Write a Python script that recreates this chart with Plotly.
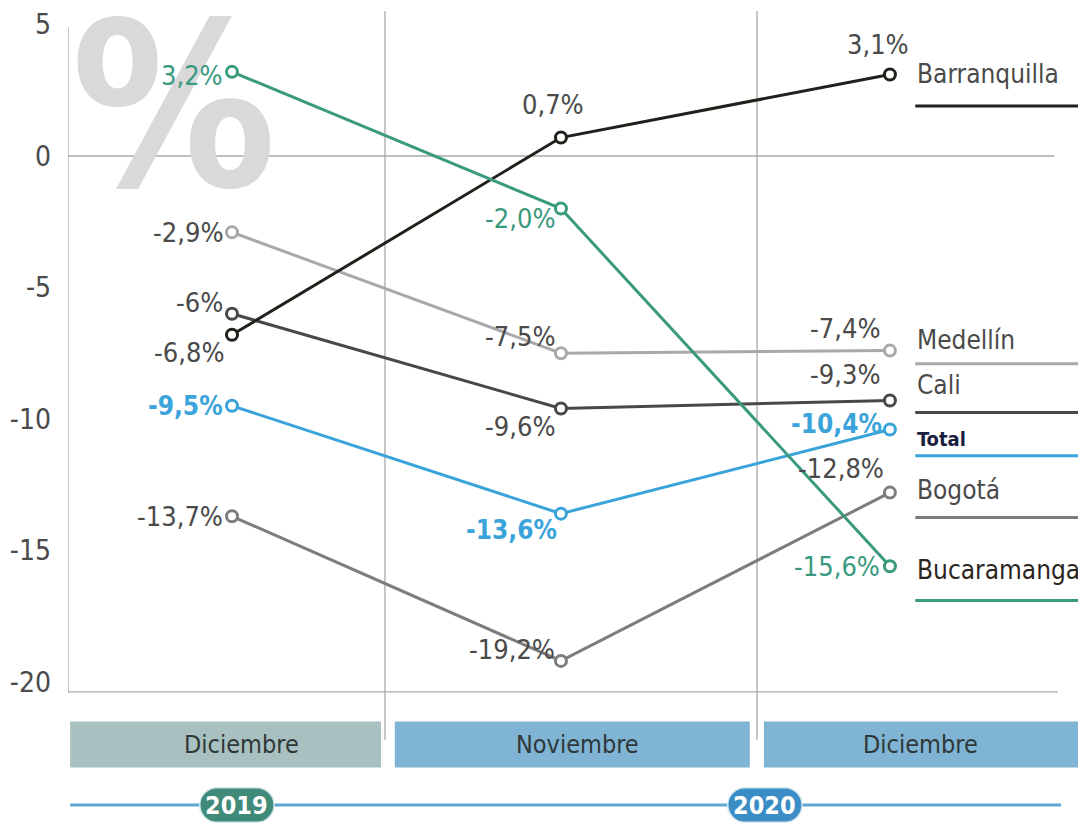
import plotly.graph_objects as go

# ---------------- data ----------------
periods = ["Dic 2019", "Nov 2020", "Dic 2020"]
band_labels = ["Diciembre", "Noviembre", "Diciembre"]
years = ["2019", "2020"]
cities = ["Barranquilla", "Bucaramanga", "Medellín", "Cali", "Total", "Bogotá"]
barranquilla = [-6.8, 0.7, 3.1]
bucaramanga = [3.2, -2.0, -15.6]
medellin = [-2.9, -7.5, -7.4]
cali = [-6.0, -9.6, -9.3]
total = [-9.5, -13.6, -10.4]
bogota = [-13.7, -19.2, -12.8]
value_texts = {
    "Barranquilla": ["-6,8%", "0,7%", "3,1%"],
    "Bucaramanga": ["3,2%", "-2,0%", "-15,6%"],
    "Medellín": ["-2,9%", "-7,5%", "-7,4%"],
    "Cali": ["-6%", "-9,6%", "-9,3%"],
    "Total": ["-9,5%", "-13,6%", "-10,4%"],
    "Bogotá": ["-13,7%", "-19,2%", "-12,8%"],
}
yticks = [5, 0, -5, -10, -15, -20]

series = {
    "Barranquilla": barranquilla,
    "Bucaramanga": bucaramanga,
    "Medellín": medellin,
    "Cali": cali,
    "Total": total,
    "Bogotá": bogota,
}

# ---------------- style ----------------
FONT = "DejaVu Sans Condensed, Roboto, sans-serif"
colors = {
    "Barranquilla": "#231f1a",
    "Bucaramanga": "#3a9a7e",
    "Medellín": "#a9a9a9",
    "Cali": "#484848",
    "Total": "#3aa4da",
    "Bogotá": "#7d7d7d",
}
label_colors = {
    "Barranquilla": "#4a4a4a",
    "Bucaramanga": "#3a9a7e",
    "Medellín": "#4a4a4a",
    "Cali": "#4a4a4a",
    "Total": "#3aa4da",
    "Bogotá": "#4a4a4a",
}
# (xanchor, yanchor, xshift, yshift) per point
label_pos = {
    "Barranquilla": [("right", "middle", -6, -18), ("center", "bottom", -8, 16), ("center", "bottom", -12, 12)],
    "Bucaramanga": [("right", "middle", -7, -4), ("right", "middle", -4, -10), ("right", "middle", -8, 0)],
    "Medellín": [("right", "middle", -7, 0), ("right", "middle", -4, 17), ("right", "middle", -8, 22)],
    "Cali": [("right", "middle", -7, 11), ("right", "middle", -4, -18), ("right", "middle", -8, 26)],
    "Total": [("right", "middle", -7, 0), ("right", "middle", -2, -16), ("right", "middle", -6, 5)],
    "Bogotá": [("right", "middle", -7, 0), ("right", "middle", -4, 11), ("right", "middle", -4, 24)],
}
# legend-name rows at right: (y value of text, y value of underline)
name_rows = {
    "Barranquilla": (3.1, 1.9),
    "Medellín": (-7.0, -7.9),
    "Cali": (-8.7, -9.75),
    "Total": (-10.75, -11.4),
    "Bogotá": (-12.7, -13.75),
    "Bucaramanga": (-15.75, -16.9),
}

x_idx = [0, 1, 2]

fig = go.Figure()

# big "%" watermark
fig.add_annotation(x=-0.175, y=1.85, xref="x", yref="y", text="<b>%</b>", showarrow=False,
                   font=dict(family=FONT, size=228, color="#d9d9d9"),
                   xanchor="center", yanchor="middle")

# lines
order = ["Bogotá", "Total", "Cali", "Medellín", "Barranquilla", "Bucaramanga"]
for name in order:
    fig.add_trace(go.Scatter(
        x=x_idx, y=series[name], mode="lines+markers", name=name,
        line=dict(color=colors[name], width=3),
        marker=dict(symbol="circle", size=11, color="white",
                    line=dict(color=colors[name], width=3)),
        showlegend=False, hoverinfo="skip"))

# value labels
for name in cities:
    for i, v in enumerate(series[name]):
        xa, ya, xs, ys = label_pos[name][i]
        bold = name == "Total"
        txt = value_texts[name][i]
        fig.add_annotation(x=i, y=v, text=("<b>%s</b>" % txt) if bold else txt,
                           showarrow=False, xanchor=xa, yanchor=ya, xshift=xs, yshift=ys,
                           font=dict(family=FONT, size=26 if bold else 27, color=label_colors[name]))

# legend names at right
for name in cities:
    ty, uy = name_rows[name]
    if name == "Total":
        txt, fsize, fcol = "<b>Total</b>", 20, "#1a2040"
    elif name == "Bucaramanga":
        txt, fsize, fcol = name, 26, "#2b2520"
    else:
        txt, fsize, fcol = name, 26, "#4a4a4a"
    fig.add_annotation(x=2.075, y=ty, text=txt, showarrow=False, xanchor="left", yanchor="middle",
                       font=dict(family=FONT, size=fsize, color=fcol))
    fig.add_shape(type="line", x0=2.077, x1=2.575, y0=uy, y1=uy,
                  line=dict(color=colors[name], width=3))

shapes_line = "#a8a8a8"
# zero line
fig.add_shape(type="line", x0=-0.5, x1=2.5, y0=0, y1=0, line=dict(color=shapes_line, width=1.3), layer="below")
# left axis
fig.add_shape(type="line", x0=-0.4985, x1=-0.4985, y0=4.9, y1=-20.38, line=dict(color=shapes_line, width=1.3), layer="below")
# bottom line
fig.add_shape(type="line", x0=-0.4985, x1=2.51, y0=-20.38, y1=-20.38, line=dict(color=shapes_line, width=1.3), layer="below")
# separators
for sx in [0.465, 1.596]:
    fig.add_shape(type="line", x0=sx, x1=sx, y0=5.5, y1=-22.2, line=dict(color=shapes_line, width=1.3), layer="below")

# month bands
band_x = [(-0.492, 0.453), (0.495, 1.574), (1.617, 2.58)]
band_text_x = [0.03, 1.05, 2.094]
band_col = ["#a9c0c0", "#7fb4d4", "#7fb4d4"]
for (x0, x1), tx, c, lab in zip(band_x, band_text_x, band_col, band_labels):
    fig.add_shape(type="rect", x0=x0, x1=x1, y0=-21.5, y1=-23.25, fillcolor=c, line=dict(width=0), layer="below")
    fig.add_annotation(x=tx, y=-22.37, text=lab, showarrow=False,
                       font=dict(family=FONT, size=25, color="#2f3838"), xanchor="center", yanchor="middle")

# timeline
fig.add_shape(type="line", x0=-0.492, x1=2.52, y0=-24.68, y1=-24.68, line=dict(color="#5ba7d2", width=3))
pill_x = [0.015, 1.62]
pill_col = ["#3f8a78", "#3b8dc6"]
yc, hh, hw, r = -24.68, 0.66, 0.113, 0.052
for px, pc, yr in zip(pill_x, pill_col, years):
    x0, x1 = px - hw, px + hw
    top, bot = yc + hh, yc - hh
    k = 0.55
    path = (f"M {x0 + r},{top} L {x1 - r},{top} "
            f"C {x1 - r + r * k},{top} {x1},{yc + hh * k} {x1},{yc} "
            f"C {x1},{yc - hh * k} {x1 - r + r * k},{bot} {x1 - r},{bot} "
            f"L {x0 + r},{bot} "
            f"C {x0 + r - r * k},{bot} {x0},{yc - hh * k} {x0},{yc} "
            f"C {x0},{yc + hh * k} {x0 + r - r * k},{top} {x0 + r},{top} Z")
    fig.add_shape(type="path", path=path, fillcolor=pc, line=dict(color="#d5e8ee", width=1.5))
    fig.add_annotation(x=px, y=yc, text="<b>%s</b>" % yr, showarrow=False,
                       font=dict(family=FONT, size=25, color="white"), xanchor="center", yanchor="middle")

fig.update_layout(
    width=1078, height=817,
    margin=dict(l=60, r=0, t=0, b=0),
    paper_bgcolor="white", plot_bgcolor="white",
    xaxis=dict(range=[-0.4985, 2.596], visible=False, fixedrange=True),
    yaxis=dict(range=[-25.44, 5.627], tickvals=yticks, ticktext=[str(t) for t in yticks],
               showgrid=False, zeroline=False, showline=False, ticks="",
               tickfont=dict(family=FONT, size=28, color="#4a4a4a"), ticklabelstandoff=16),
    showlegend=False,
)

fig.write_html("out.html")
